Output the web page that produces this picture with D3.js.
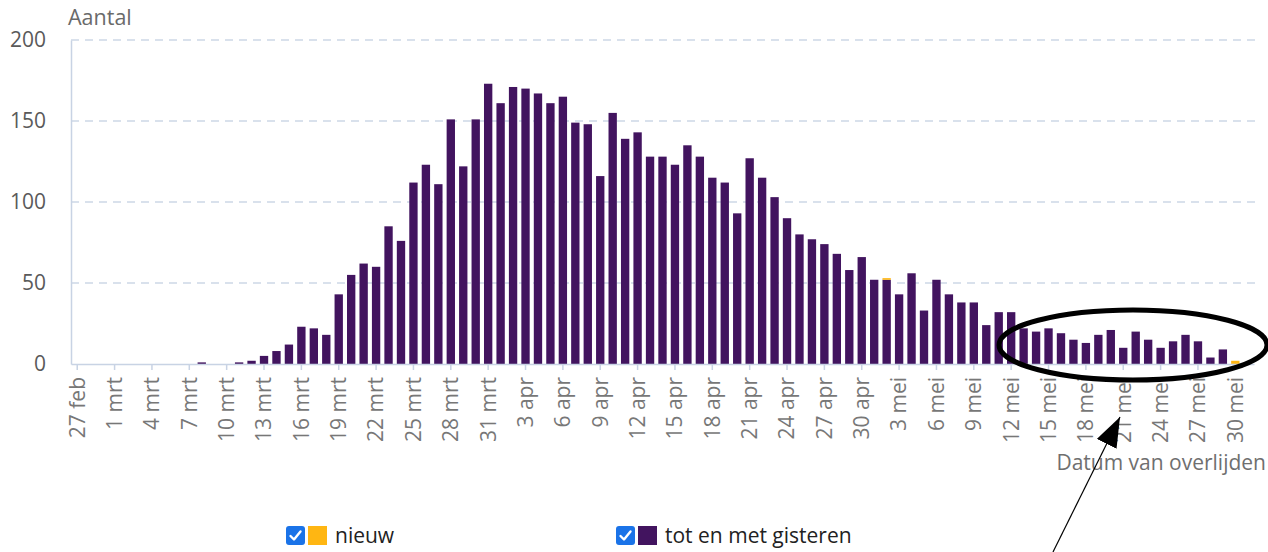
<!DOCTYPE html>
<html>
<head>
<meta charset="utf-8">
<script src="https://cdnjs.cloudflare.com/ajax/libs/d3/7.8.5/d3.min.js"></script>
<style>
  body { margin: 0; background: #fff; }
  text { font-family: "Open Sans", "Noto Sans", sans-serif; }
</style>
</head>
<body>
<div id="chart"></div>
<script>
// overlijdens per dag, 27 feb t/m 31 mei 2020
var startDag = new Date(2020, 1, 27);
var eindDag = new Date(2020, 5, 1); // exclusief

var maanden = ["jan", "feb", "mrt", "apr", "mei", "jun"];

// tot en met gisteren (paars)
var totFeb = [0, 0, 0];
var totMrt = [0, 0, 0, 0, 0, 0, 0, 1, 0, 0, 1, 2, 5, 8, 12, 23, 22, 18, 43, 55,
              62, 60, 85, 76, 112, 123, 111, 151, 122, 151, 173];
var totApr = [161, 171, 170, 167, 161, 165, 149, 148, 116, 155, 139, 143, 128, 128, 123,
              135, 128, 115, 112, 93, 127, 115, 103, 90, 80, 77, 74, 68, 58, 66];
var totMei = [52, 52, 43, 56, 33, 52, 43, 38, 38, 24, 32, 32, 22, 20, 22, 19, 15, 13,
              18, 21, 10, 20, 15, 10, 14, 18, 14, 4, 9, 0, 0];

// nieuw (geel)
var nieuwFeb = [0, 0, 0];
var nieuwMrt = [0, 0, 0, 0, 0, 0, 0, 0, 0, 0, 0, 0, 0, 0, 0, 0, 0, 0, 0, 0,
                0, 0, 0, 0, 0, 0, 0, 0, 0, 0, 0];
var nieuwApr = [0, 0, 0, 0, 0, 0, 0, 0, 0, 0, 0, 0, 0, 0, 0,
                0, 0, 0, 0, 0, 0, 0, 0, 0, 0, 0, 0, 0, 0, 0];
var nieuwMei = [0, 1, 0, 0, 0, 0, 0, 0, 0, 0, 0, 0, 0, 0, 0, 0, 0, 0,
                0, 0, 0, 0, 0, 0, 0, 0, 0, 0, 0, 2, 1];

var yTicks = [0, 50, 100, 150, 200];

var paars = "#42145f", geel = "#ffb612";

var width = 1268, height = 552;
var plotLeft = 71, plotRight = 1254, plotTop = 40, plotBottom = 364;

var dagen = d3.timeDay.range(startDag, eindDag);
var tot = totFeb.concat(totMrt, totApr, totMei);
var nieuw = nieuwFeb.concat(nieuwMrt, nieuwApr, nieuwMei);

var data = dagen.map(function (d, i) {
    return {dag: d, tot: tot[i], nieuw: nieuw[i]};
});

var svg = d3.select("#chart").append("svg")
    .attr("width", width)
    .attr("height", height)
    .style("display", "block");

var x = d3.scaleBand()
    .domain(dagen)
    .range([plotLeft, plotRight])
    .paddingInner(0.33)
    .paddingOuter(0.165);

var y = d3.scaleLinear()
    .domain([0, 200])
    .range([plotBottom, plotTop]);

// rasterlijnen
svg.append("g").selectAll("line")
    .data(yTicks.filter(function (t) { return t > 0; }))
    .enter().append("line")
    .attr("x1", plotLeft)
    .attr("x2", plotRight + 4)
    .attr("y1", function (d) { return y(d); })
    .attr("y2", function (d) { return y(d); })
    .style("stroke", "#cdd7e6")
    .style("stroke-width", 1.5)
    .style("stroke-dasharray", "8, 6");

// y-as
var yAxis = svg.append("g")
    .attr("transform", "translate(" + plotLeft + ",0)")
    .call(d3.axisLeft(y).tickValues(yTicks).tickSize(0).tickPadding(25));
yAxis.select(".domain").style("stroke", "#c8d3e4").style("stroke-width", 1.5);
yAxis.selectAll("text")
    .style("font-size", "21px")
    .style("fill", "#5a5a5a");

svg.append("text")
    .attr("x", 68)
    .attr("y", 25)
    .style("font-size", "21.5px")
    .style("fill", "#6a6a6a")
    .text("Aantal");

// staven
var staaf = svg.append("g").selectAll("g")
    .data(data)
    .enter().append("g");

staaf.append("rect")
    .attr("x", function (d) { return x(d.dag); })
    .attr("width", x.bandwidth())
    .attr("y", function (d) { return y(d.tot); })
    .attr("height", function (d) { return y(0) - y(d.tot); })
    .style("fill", paars);

staaf.append("rect")
    .attr("x", function (d) { return x(d.dag); })
    .attr("width", x.bandwidth())
    .attr("y", function (d) { return y(d.tot + d.nieuw); })
    .attr("height", function (d) { return y(d.tot) - y(d.tot + d.nieuw); })
    .style("fill", geel);

// x-as
var tickDagen = dagen.filter(function (d, i) { return i % 3 === 0; });
var xAxis = svg.append("g")
    .attr("transform", "translate(0," + plotBottom + ")")
    .call(d3.axisBottom(x)
        .tickValues(tickDagen)
        .tickSize(6)
        .tickSizeOuter(0)
        .tickFormat(function (d) { return d.getDate() + " " + maanden[d.getMonth()]; }));
xAxis.select(".domain").style("stroke", "#c8d3e4").style("stroke-width", 1.5);
xAxis.selectAll(".tick line").style("stroke", "#c8d3e4").style("stroke-width", 1.5);
xAxis.selectAll("text")
    .attr("transform", "rotate(-90)")
    .attr("x", -13)
    .attr("y", 0)
    .attr("dy", "0.35em")
    .style("text-anchor", "end")
    .style("font-size", "21px")
    .style("fill", "#777");

svg.append("text")
    .attr("x", 1266)
    .attr("y", 470)
    .style("text-anchor", "end")
    .style("font-size", "21px")
    .style("fill", "#6f6f6f")
    .text("Datum van overlijden");

// legenda
var legenda = [
    {label: "nieuw", kleur: geel, x: 286},
    {label: "tot en met gisteren", kleur: paars, x: 616}
];
var item = svg.append("g").selectAll("g")
    .data(legenda)
    .enter().append("g")
    .attr("transform", function (d) { return "translate(" + d.x + ",526)"; });

item.append("rect")
    .attr("width", 19).attr("height", 19).attr("rx", 3)
    .style("fill", "#1a73e8");
item.append("path")
    .attr("d", "M4.5,10 L8,13.5 L14.5,5.5")
    .style("fill", "none")
    .style("stroke", "#fff")
    .style("stroke-width", 2.4)
    .style("stroke-linecap", "round")
    .style("stroke-linejoin", "round");
item.append("rect")
    .attr("x", 22).attr("y", 0)
    .attr("width", 19).attr("height", 19)
    .style("fill", function (d) { return d.kleur; });
item.append("text")
    .attr("x", 49)
    .attr("y", 17)
    .style("font-size", "21px")
    .style("fill", "#222")
    .text(function (d) { return d.label; });

// aantekening: ellips en pijl
svg.append("ellipse")
    .attr("cx", 1133)
    .attr("cy", 345)
    .attr("rx", 134)
    .attr("ry", 35)
    .style("fill", "none")
    .style("stroke", "#000")
    .style("stroke-width", 5);

var defs = svg.append("defs");
defs.append("marker")
    .attr("id", "pijl")
    .attr("viewBox", "0 0 30 22")
    .attr("refX", 30)
    .attr("refY", 11)
    .attr("markerWidth", 30)
    .attr("markerHeight", 22)
    .attr("markerUnits", "userSpaceOnUse")
    .attr("orient", "auto")
    .append("path")
    .attr("d", "M0,0 L30,11 L0,22 Z")
    .style("fill", "#000");

svg.append("line")
    .attr("x1", 1053)
    .attr("y1", 552)
    .attr("x2", 1120)
    .attr("y2", 417)
    .style("stroke", "#000")
    .style("stroke-width", 1.2)
    .attr("marker-end", "url(#pijl)");
</script>
</body>
</html>
